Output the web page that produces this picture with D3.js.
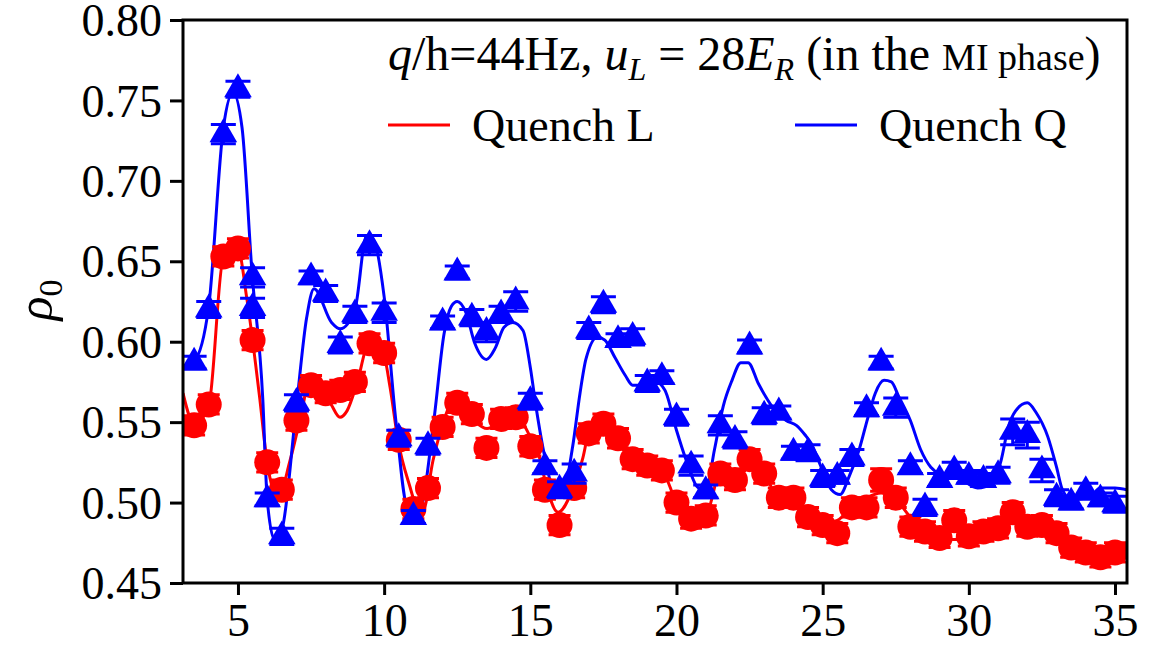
<!DOCTYPE html>
<html>
<head>
<meta charset="utf-8">
<script src="https://cdn.jsdelivr.net/npm/d3@7"></script>
<style>
  body { margin: 0; background: #fff; }
  svg text { font-family: "Liberation Serif", "DejaVu Serif", serif; }
</style>
</head>
<body>
<svg id="chart"></svg>
<script>
// measured points
const redX = [3.5,4,4.5,5,5.5,6,6.5,7,7.5,8,8.5,9,9.5,10,10.5,11,11.5,12,12.5,13,13.5,14,14.5,15,15.5,16,16.5,17,17.5,18,18.5,19,19.5,20,20.5,21,21.5,22,22.5,23,23.5,24,24.5,25,25.5,26,26.5,27,27.5,28,28.5,29,29.5,30,30.5,31,31.5,32,32.5,33,33.5,34,34.5,35];
const redY = [0.548,0.561,0.653,0.658,0.601,0.525,0.508,0.551,0.573,0.568,0.570,0.575,0.599,0.593,0.539,0.496,0.509,0.547,0.562,0.555,0.534,0.552,0.553,0.535,0.508,0.486,0.509,0.543,0.549,0.540,0.527,0.523,0.520,0.500,0.490,0.492,0.518,0.514,0.527,0.518,0.503,0.503,0.491,0.486,0.481,0.497,0.497,0.514,0.503,0.485,0.482,0.478,0.489,0.479,0.482,0.484,0.494,0.485,0.486,0.481,0.472,0.469,0.466,0.469];
const redErr = [0.006,0.006,0.006,0.006,0.006,0.006,0.006,0.006,
                0.006,0.006,0.006,0.006,0.006,0.006,0.006,0.006,
                0.006,0.006,0.006,0.006,0.006,0.006,0.006,0.006,
                0.006,0.006,0.006,0.006,0.006,0.006,0.006,0.006,
                0.006,0.006,0.006,0.006,0.006,0.006,0.006,0.006,
                0.006,0.006,0.006,0.006,0.006,0.006,0.006,0.007,
                0.006,0.006,0.006,0.006,0.006,0.006,0.006,0.006,
                0.006,0.006,0.006,0.006,0.006,0.006,0.006,0.006];

const blueX = [3.5,4,4.5,5,5.5,5.5,6,6.5,7,7.5,8,8.5,9,9.5,10,10.5,11,11.5,12,12.5,13,13.5,14,14.5,15,15.5,16,16.5,17,17.5,18,18.5,19,19.5,20,20.5,21,21.5,22,22.5,23,23.5,24,24.5,25,25.5,26,26.5,27,27.5,28,28.5,29,29.5,30,30.5,31,31.5,32,32.5,33,33.5,34,34.5,35];
const blueY = [0.587,0.620,0.729,0.757,0.640,0.621,0.502,0.479,0.562,0.640,0.630,0.598,0.617,0.660,0.618,0.540,0.491,0.535,0.612,0.643,0.615,0.606,0.617,0.625,0.563,0.522,0.508,0.518,0.607,0.623,0.601,0.603,0.574,0.578,0.553,0.523,0.507,0.548,0.539,0.597,0.554,0.556,0.531,0.531,0.515,0.516,0.528,0.558,0.587,0.559,0.522,0.497,0.514,0.520,0.516,0.514,0.517,0.544,0.542,0.520,0.503,0.500,0.507,0.502,0.499];
const blueErr = [0.004,0.005,0.006,0.005,0.006,
                 0.006,0.004,0.005,0.005,0.004,
                 0.005,0.005,0.005,0.006,0.006,
                 0.005,0.004,0.005,0.004,0.004,
                 0.005,0.006,0.005,0.006,0.005,
                 0.004,0.005,0.006,0.005,0.005,
                 0.004,0.005,0.005,0.004,0.005,
                 0.006,0.004,0.006,0.005,0.004,
                 0.005,0.004,0.004,0.005,0.005,
                 0.004,0.005,0.004,0.004,0.006,
                 0.004,0.005,0.004,0.005,0.004,
                 0.004,0.005,0.008,0.008,0.007,
                 0.005,0.004,0.005,0.004,0.005];

// theory curves
const curveLx = [3.12,3.5,4.0,4.5,5.0,5.31,5.75,5.99,6.2,6.37,6.78,7.19,7.36,7.7,8.15,8.49,8.73,9.07,9.45,9.96,10.2,10.47,10.88,11.12,11.33,11.67,11.91,12.36,12.94,13.52,14.07,14.55,14.99,15.33,15.5,15.95,16.4,16.8,17.0,17.5,18,18.5,19,19.5,20,20.5,21,21.5,22,22.5,23,23.5,24,24.5,25,25.5,26,26.5,27,27.5,28,28.5,29,29.5,30,30.5,31,31.5,32,32.5,33,33.5,34,34.5,35,35.41];
const curveLy = [0.568,0.549,0.560,0.652,0.657,0.626,0.564,0.526,0.508,0.503,0.526,0.557,0.570,0.570,0.562,0.553,0.557,0.574,0.597,0.593,0.572,0.539,0.510,0.497,0.495,0.526,0.543,0.562,0.553,0.546,0.551,0.553,0.541,0.527,0.514,0.494,0.506,0.528,0.543,0.549,0.540,0.527,0.523,0.520,0.500,0.490,0.492,0.518,0.516,0.527,0.518,0.503,0.502,0.492,0.487,0.489,0.497,0.503,0.506,0.502,0.491,0.483,0.478,0.477,0.479,0.482,0.484,0.490,0.486,0.485,0.481,0.472,0.469,0.467,0.469,0.475];
const curveQx = [3.12,3.5,4.0,4.5,4.83,5.14,5.48,5.85,6.0,6.25,6.5,7.0,7.35,7.6,8.2,8.5,9.0,9.4,9.65,10.0,10.4,10.8,11.2,11.7,12.05,12.3,12.5,12.8,13.1,13.5,13.8,14.1,14.4,14.75,15.0,15.2,15.5,15.8,16.1,16.45,16.7,16.9,17.3,17.55,17.9,18.25,18.5,18.8,19.2,19.6,20.0,20.3,20.7,21.0,21.3,21.6,21.9,22.2,22.45,22.8,23.3,23.75,24.1,24.4,24.6,24.95,25.3,25.6,25.9,26.25,26.55,26.8,27.1,27.35,27.6,28.0,28.35,28.7,29.0,29.6,30.3,30.8,31.1,31.35,31.6,32.0,32.3,32.7,33.0,33.2,33.5,34.1,34.5,35.0,35.41];
const curveQy = [0.585,0.588,0.622,0.733,0.755,0.733,0.643,0.564,0.502,0.477,0.483,0.560,0.615,0.633,0.612,0.608,0.620,0.666,0.663,0.628,0.551,0.497,0.495,0.551,0.605,0.622,0.625,0.618,0.599,0.589,0.596,0.609,0.612,0.607,0.584,0.559,0.528,0.508,0.506,0.535,0.568,0.589,0.603,0.601,0.590,0.579,0.573,0.573,0.576,0.570,0.545,0.528,0.510,0.507,0.533,0.560,0.576,0.587,0.587,0.574,0.559,0.551,0.548,0.542,0.537,0.522,0.508,0.505,0.516,0.533,0.553,0.568,0.576,0.575,0.566,0.551,0.533,0.522,0.518,0.516,0.509,0.512,0.526,0.547,0.557,0.562,0.556,0.541,0.522,0.508,0.502,0.503,0.509,0.509,0.508];

const xTicks = [5, 10, 15, 20, 25, 30, 35];
const yTicks = [0.45, 0.50, 0.55, 0.60, 0.65, 0.70, 0.75, 0.80];

const width = 1157, height = 647;
const m = { left: 183, top: 20, right: 1127, bottom: 583 };
const RED = '#ff0000', BLUE = '#0000ff';
const FONT = '"Liberation Serif", "DejaVu Serif", serif';

const svg = d3.select('#chart').attr('width', width).attr('height', height);

const x = d3.scaleLinear().domain([3.12, 35.41]).range([m.left, m.right]);
const y = d3.scaleLinear().domain([0.45, 0.80]).range([m.bottom, m.top]);

svg.append('clipPath').attr('id', 'clip')
  .append('rect').attr('x', m.left).attr('y', m.top)
  .attr('width', m.right - m.left).attr('height', m.bottom - m.top);

const plot = svg.append('g').attr('clip-path', 'url(#clip)');

const line = d3.line().x(d => x(d[0])).y(d => y(d[1])).curve(d3.curveMonotoneX);

plot.append('path')
  .datum(d3.zip(curveLx, curveLy))
  .attr('d', line).attr('fill', 'none')
  .attr('stroke', RED).attr('stroke-width', 3);

plot.append('path')
  .datum(d3.zip(curveQx, curveQy))
  .attr('d', line).attr('fill', 'none')
  .attr('stroke', BLUE).attr('stroke-width', 3);

function errorBars(g, xs, ys, es, color, cap) {
  const pts = d3.zip(xs, ys, es);
  g.selectAll(null).data(pts).enter().append('path')
    .attr('d', d => {
      const cx = x(d[0]), y1 = y(d[1] + d[2]), y2 = y(d[1] - d[2]);
      return `M${cx - cap / 2},${y1}H${cx + cap / 2}M${cx},${y1}V${y2}M${cx - cap / 2},${y2}H${cx + cap / 2}`;
    })
    .attr('fill', 'none').attr('stroke', color).attr('stroke-width', 3);
}

// red points
errorBars(plot, redX, redY, redErr, RED, 22);
plot.selectAll('circle.red')
  .data(d3.zip(redX, redY))
  .enter().append('circle')
  .attr('class', 'red')
  .attr('cx', d => x(d[0])).attr('cy', d => y(d[1]))
  .attr('r', 13).attr('fill', RED);

// blue points
errorBars(plot, blueX, blueY, blueErr, BLUE, 25);
const tri = d3.symbol().type(d3.symbolTriangle).size(330);
plot.selectAll('path.blue')
  .data(d3.zip(blueX, blueY))
  .enter().append('path')
  .attr('class', 'blue')
  .attr('transform', d => `translate(${x(d[0])},${y(d[1])})`)
  .attr('d', tri).attr('fill', BLUE);

// frame and axes
svg.append('rect')
  .attr('x', m.left).attr('y', m.top)
  .attr('width', m.right - m.left).attr('height', m.bottom - m.top)
  .attr('fill', 'none').attr('stroke', '#000').attr('stroke-width', 3);

const xAxis = svg.append('g')
  .attr('transform', `translate(0,${m.bottom})`)
  .call(d3.axisBottom(x).tickValues(xTicks).tickSize(12).tickPadding(6).tickFormat(d3.format('d')));
const yAxis = svg.append('g')
  .attr('transform', `translate(${m.left},0)`)
  .call(d3.axisLeft(y).tickValues(yTicks).tickSize(13).tickPadding(8).tickFormat(d3.format('.2f')));

[xAxis, yAxis].forEach(a => {
  a.attr('font-family', null).attr('font-size', null);
  a.select('.domain').remove();
  a.selectAll('.tick line').attr('stroke', '#000').attr('stroke-width', 3);
  a.selectAll('.tick text')
    .attr('fill', '#000')
    .style('font-family', FONT)
    .style('font-size', '46px');
});
yAxis.selectAll('.tick text').attr('dy', '0.34em');
xAxis.selectAll('.tick text').attr('dy', '0.75em');

// y label
const yl = svg.append('text')
  .attr('transform', 'translate(52,300) rotate(-90)')
  .attr('text-anchor', 'middle')
  .style('font-family', FONT)
  .style('font-size', '50px');
yl.append('tspan').style('font-style', 'italic').text('ρ');
yl.append('tspan').attr('dy', 10).style('font-size', '34px').text('0');

// title line
const t = svg.append('text')
  .attr('x', 388).attr('y', 70)
  .style('font-family', FONT)
  .style('font-size', '48px');
t.append('tspan').style('font-style', 'italic').text('q');
t.append('tspan').text('/h=44Hz, ');
t.append('tspan').style('font-style', 'italic').text('u');
t.append('tspan').attr('dy', 10).style('font-style', 'italic').style('font-size', '32px').text('L');
t.append('tspan').attr('dy', -10).text(' = 28');
t.append('tspan').style('font-style', 'italic').text('E');
t.append('tspan').attr('dy', 10).style('font-style', 'italic').style('font-size', '32px').text('R');
t.append('tspan').attr('dy', -10).text(' (in the ');
t.append('tspan').style('font-size', '38px').text('MI phase');
t.append('tspan').text(')');

// legend
const legend = [
  { label: 'Quench L', color: RED, x0: 388 },
  { label: 'Quench Q', color: BLUE, x0: 795 }
];
const lg = svg.selectAll('g.legend').data(legend).enter().append('g').attr('class', 'legend');
lg.append('line')
  .attr('x1', d => d.x0).attr('x2', d => d.x0 + 62)
  .attr('y1', 125).attr('y2', 125)
  .attr('stroke', d => d.color).attr('stroke-width', 3);
lg.append('text')
  .attr('x', d => d.x0 + 84).attr('y', 141)
  .style('font-family', FONT)
  .style('font-size', '46px')
  .text(d => d.label);
</script>
</body>
</html>
